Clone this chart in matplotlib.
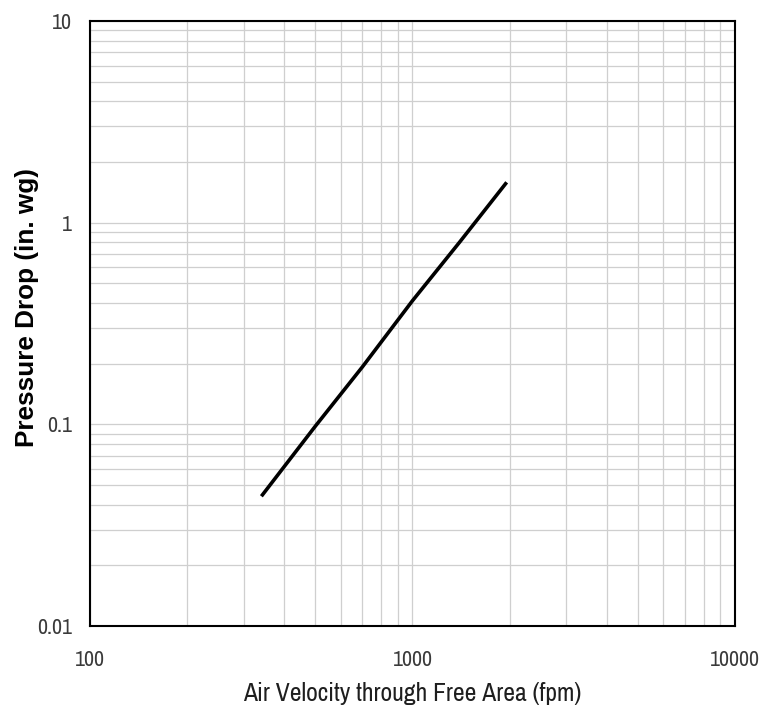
import numpy as np
import matplotlib
matplotlib.use('Agg')
import matplotlib.pyplot as plt
from matplotlib import font_manager
from matplotlib.ticker import LogLocator, FixedLocator, FixedFormatter, NullFormatter

# air velocity (fpm) vs pressure drop (in. wg)
velocity = [340, 500, 700, 1000, 1400, 1960]
pressure = [0.044, 0.098, 0.193, 0.41, 0.80, 1.585]

x_ticks = [100, 1000, 10000]
x_labels = ['100', '1000', '10000']
y_ticks = [0.01, 0.1, 1, 10]
y_labels = ['0.01', '0.1', '1', '10']

# the reference text looks like Arial Narrow; use the narrow Liberation face if it is there
narrow_files = sorted(f for f in font_manager.findSystemFonts()
                      if 'Narrow' in f and 'Bold' not in f and 'Italic' not in f)
if narrow_files:
    font_manager.fontManager.addfont(narrow_files[0])
    narrow_name = font_manager.FontProperties(fname=narrow_files[0]).get_name()
    narrow = [narrow_name, 'DejaVu Sans']
    scale = 1.0
else:
    narrow = ['Liberation Sans', 'DejaVu Sans']
    scale = 0.82

fig = plt.figure(figsize=(7.76, 7.14), dpi=100)
ax = fig.add_axes([0.116, 0.1232, 0.831, 0.8474])

ax.set_xscale('log')
ax.set_yscale('log')
ax.set_xlim(100, 10000)
ax.set_ylim(0.01, 10)

ax.plot(velocity, pressure, color='black', lw=2.6, solid_capstyle='butt', zorder=3)

ax.xaxis.set_major_locator(FixedLocator(x_ticks))
ax.xaxis.set_major_formatter(FixedFormatter(x_labels))
ax.yaxis.set_major_locator(FixedLocator(y_ticks))
ax.yaxis.set_major_formatter(FixedFormatter(y_labels))
ax.xaxis.set_minor_locator(LogLocator(base=10, subs=np.arange(2, 10)))
ax.yaxis.set_minor_locator(LogLocator(base=10, subs=np.arange(2, 10)))
ax.xaxis.set_minor_formatter(NullFormatter())
ax.yaxis.set_minor_formatter(NullFormatter())

ax.grid(True, which='both', color='#cfcfcf', lw=0.9)
ax.set_axisbelow(True)

ax.tick_params(which='both', length=0)
ax.tick_params(axis='x', pad=17)
ax.tick_params(axis='y', pad=13)
for lab in ax.get_xticklabels() + ax.get_yticklabels():
    lab.set_family(narrow)
    lab.set_fontsize(15.8 * scale)
    lab.set_color('#3a3a3a')

for s in ax.spines.values():
    s.set_color('black')
    s.set_linewidth(1.5)

ax.set_xlabel('Air Velocity through Free Area (fpm)', family=narrow,
              fontsize=18.4 * scale, color='#1e1e1e', va='center')
ax.xaxis.set_label_coords(0.5, -0.111)
ax.set_ylabel('Pressure Drop (in. wg)', family=['Liberation Sans', 'DejaVu Sans'],
              fontsize=18.8, fontweight='bold', color='black', va='center')
ax.yaxis.set_label_coords(-0.0977, 0.527)

fig.savefig('out.png', dpi=100)
